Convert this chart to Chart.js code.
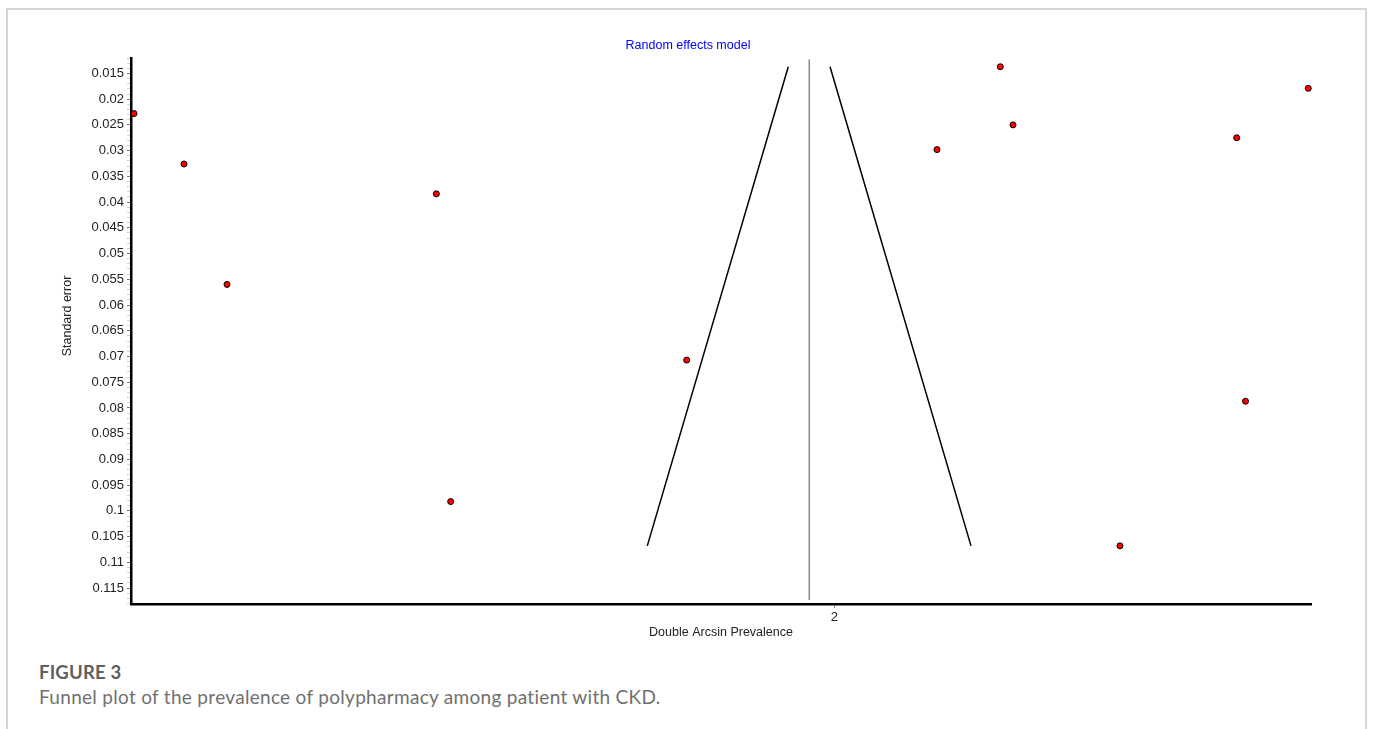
<!DOCTYPE html>
<html>
<head>
<meta charset="utf-8">
<title>Funnel plot</title>
<script src="https://cdn.jsdelivr.net/npm/chart.js@4.4.1/dist/chart.umd.min.js"></script>
<style>
  html, body { margin: 0; padding: 0; background: #fff; width: 1373px; height: 729px; overflow: hidden; }
  .card { position: absolute; left: 6px; top: 8px; width: 1357px; height: 760px;
          border: 2px solid #d6d6d6; border-bottom: none; }
  #plot { position: absolute; left: 0; top: 0; }
  .fig-label { position: absolute; left: 39px; top: 661px; font-family: Lato, "Open Sans", sans-serif;
               font-weight: 700; font-size: 18.5px; line-height: 22px; color: #606060; letter-spacing: 0.2px; }
  .fig-text { position: absolute; left: 39px; top: 686px; font-family: Lato, "Open Sans", sans-serif;
              font-size: 19px; line-height: 22px; color: #707070; letter-spacing: 0.3px; }
</style>
</head>
<body>
<div class="card"></div>
<canvas id="plot" width="1373" height="650"></canvas>
<div class="fig-label">FIGURE 3</div>
<div class="fig-text">Funnel plot of the prevalence of polypharmacy among patient with CKD.</div>

<script>
// Study estimates (double arcsine transformed prevalence) and their standard errors
const studyEffect = [1.0964, 1.1609, 1.2164, 1.4865, 1.5050, 1.8095, 2.1325, 2.2142, 2.2306, 2.3686, 2.5192, 2.5306, 2.6116];
const studySE     = [0.0228, 0.0326, 0.0560, 0.0384, 0.0982, 0.0707, 0.0298, 0.0137, 0.0250, 0.1068, 0.0275, 0.0787, 0.0179];

// Random effects pooled estimate and the vertical reference line span
const pooledEstimate = 1.9677;
const pooledLineSE   = [0.0123, 0.1173];

// Pseudo 95% confidence limits of the funnel (top and bottom ends)
const funnelSE     = [0.0137, 0.1068];
const funnelLowerX = [1.9406, 1.7587];
const funnelUpperX = [1.9945, 2.1764];

// Axis ranges and tick labels
const xRange = [1.0925, 2.6151];
const yRange = [0.0120, 0.1181];
const xTickValues = [2];
const xTickLabels = ['2'];
const yTickLabels = ['0.015', '0.02', '0.025', '0.03', '0.035', '0.04', '0.045', '0.05', '0.055', '0.06',
                     '0.065', '0.07', '0.075', '0.08', '0.085', '0.09', '0.095', '0.1', '0.105', '0.11', '0.115'];
const yMinorStep = 0.001;

const FONT = "'Liberation Sans', Arial, Helvetica, sans-serif";
Chart.defaults.font.family = FONT;

// every minor tick position inside the y range
const yTickValues = [];
for (let k = Math.ceil(yRange[0] / yMinorStep); k * yMinorStep <= yRange[1] + 1e-12; k++) {
  yTickValues.push(+(k * yMinorStep).toFixed(3));
}
function yLabelFor(v) {
  const hit = yTickLabels.find(s => Math.abs(Number(s) - v) < 1e-9);
  return hit === undefined ? '' : hit;
}

// Annotation text: panel title and rotated y-axis title
const textPlugin = {
  id: 'plotText',
  afterDraw(chart) {
    const c = chart.ctx;
    c.save();
    c.font = '12.5px ' + FONT;
    c.textAlign = 'center';
    c.textBaseline = 'middle';
    c.fillStyle = '#0000ff';
    c.fillText('Random effects model', 688, 46);
    c.fillStyle = '#222';
    c.translate(68, 316);
    c.rotate(-Math.PI / 2);
    c.fillText('Standard error', 0, 0);
    c.restore();
  }
};

new Chart(document.getElementById('plot'), {
  type: 'scatter',
  data: {
    datasets: [
      {
        label: 'Pooled estimate',
        data: pooledLineSE.map(se => ({ x: pooledEstimate, y: se })),
        showLine: true, borderColor: '#8a8a8a', borderWidth: 1.5, pointRadius: 0
      },
      {
        label: 'Lower limit',
        data: funnelSE.map((se, i) => ({ x: funnelLowerX[i], y: se })),
        showLine: true, borderColor: '#000', borderWidth: 1.5, pointRadius: 0
      },
      {
        label: 'Upper limit',
        data: funnelSE.map((se, i) => ({ x: funnelUpperX[i], y: se })),
        showLine: true, borderColor: '#000', borderWidth: 1.5, pointRadius: 0
      },
      {
        label: 'Studies',
        data: studyEffect.map((x, i) => ({ x: x, y: studySE[i] })),
        showLine: false, pointRadius: 3, pointHoverRadius: 3,
        pointBackgroundColor: '#ff0000', pointBorderColor: '#000', pointBorderWidth: 1,
        clip: false
      }
    ]
  },
  options: {
    responsive: false,
    animation: false,
    events: [],
    layout: { padding: { left: 0, right: 62, top: 58, bottom: 6 } },
    plugins: { legend: { display: false }, tooltip: { enabled: false }, title: { display: false } },
    scales: {
      x: {
        type: 'linear',
        min: xRange[0], max: xRange[1],
        afterBuildTicks: s => { s.ticks = xTickValues.map(v => ({ value: v })); },
        afterFit: s => { s.height = 40; },
        ticks: {
          autoSkip: false, maxRotation: 0, padding: 2,
          color: '#222', font: { size: 13 },
          callback: (v, i) => xTickLabels[i]
        },
        grid: { drawOnChartArea: false, drawTicks: true, tickLength: 4, tickColor: '#888', tickWidth: 1 },
        border: { display: true, color: '#000', width: 2.5 },
        title: {
          display: true, text: 'Double Arcsin Prevalence', color: '#222',
          font: { size: 12.5 }, padding: { top: 0, bottom: 4 }
        }
      },
      y: {
        type: 'linear',
        reverse: true,
        min: yRange[0], max: yRange[1],
        afterBuildTicks: s => { s.ticks = yTickValues.map(v => ({ value: v })); },
        afterFit: s => { s.width = 131; },
        ticks: {
          autoSkip: false, padding: 3,
          color: '#222', font: { size: 13 },
          callback: v => yLabelFor(v)
        },
        grid: {
          drawOnChartArea: false, drawTicks: true, tickLength: 4, tickWidth: 1,
          tickColor: ctx => (yLabelFor(ctx.tick.value) ? '#777' : '#cfcfcf')
        },
        border: { display: true, color: '#000', width: 2.5 }
      }
    }
  },
  plugins: [textPlugin]
});
</script>
</body>
</html>
